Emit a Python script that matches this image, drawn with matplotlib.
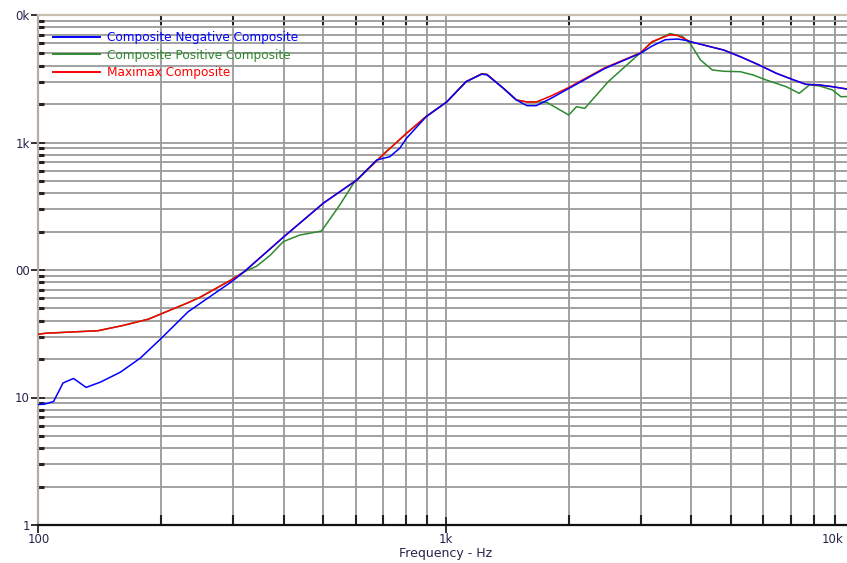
import matplotlib
matplotlib.use("Agg")
import matplotlib.pyplot as plt
import matplotlib.transforms as mtransforms
from matplotlib.ticker import LogLocator, FixedLocator, FixedFormatter, NullFormatter

# ---- data ----
neg_freq = [100, 104, 109, 115, 122, 131, 142, 159, 178, 200, 233, 264, 298, 320,
            400, 500, 604, 676, 728, 770, 800, 894, 1004, 1120, 1222, 1260, 1383,
            1488, 1580, 1665, 1800, 2000, 2450, 3000, 3200, 3450, 3700, 3900, 3970,
            4350, 4800, 5270, 5860, 6460, 7130, 7630, 8240, 8870, 9600, 10000]
neg_vals = [8.8, 8.9, 9.3, 13.0, 14.1, 12.0, 13.2, 15.8, 20.4, 29, 47, 62, 81, 97,
            182, 334, 508, 729, 774, 901, 1079, 1594, 2080, 3000, 3430, 3400, 2662,
            2155, 1945, 1945, 2200, 2650, 3800, 5011, 5700, 6400, 6480, 6300, 6180,
            5745, 5310, 4710, 4055, 3490, 3092, 2860, 2826, 2740, 2630, 2580]

pos_freq = [100, 104, 140, 160, 186, 233, 249, 276, 298, 320, 343, 370, 399, 438,
            495, 549, 593, 700, 800, 894, 1004, 1120, 1222, 1260, 1383, 1488, 1580,
            1665, 1765, 2000, 2090, 2190, 2500, 3000, 3200, 3540, 3800, 3970, 4210,
            4500, 4800, 5270, 5670, 6100, 6830, 7350, 7790, 8240, 8870, 9300, 10000]
pos_vals = [31.3, 31.9, 33.4, 36.5, 41.1, 55.4, 61, 73.2, 84, 97, 107, 130, 167, 188,
            202, 324, 478, 800, 1180, 1600, 2080, 3000, 3450, 3420, 2660, 2155, 2080,
            2080, 2070, 1643, 1909, 1853, 3000, 5060, 6100, 7150, 6800, 6000, 4437,
            3705, 3620, 3590, 3383, 3092, 2740, 2432, 2826, 2780, 2582, 2287, 2300]

max_freq = [100, 104, 140, 160, 186, 233, 249, 276, 298, 320, 345, 400, 500, 604,
            700, 800, 894, 1004, 1120, 1222, 1260, 1383, 1488, 1580, 1665, 1800,
            2000, 2450, 3000, 3200, 3540, 3700, 3970, 4350, 4800, 5270, 5860, 6460,
            7130, 7630, 8240, 8870, 9600, 10000]
max_vals = [31.3, 31.9, 33.4, 36.5, 41.1, 55.4, 61, 73.2, 84, 97, 120, 182, 334, 508,
            800, 1180, 1600, 2080, 3000, 3450, 3420, 2660, 2155, 2080, 2080, 2300,
            2700, 3850, 5050, 6180, 7000, 6900, 6180, 5745, 5310, 4710, 4055, 3490,
            3092, 2860, 2826, 2740, 2630, 2580]

series_labels = ["Composite Negative Composite", "Composite Positive Composite",
                 "Maximax Composite"]
series_colors = ["#0000ff", "#2f8a2f", "#ff0000"]

y_tick_vals = [1, 10, 100, 1000, 10000]
y_tick_text = ["1", "10", "00", "1k", "0k"]
x_tick_vals = [100, 1000, 10000]
x_tick_text = ["100", "1k", "10k"]
x_label = "Frequency - Hz"

# ---- figure ----
W, H = 847, 563
fig = plt.figure(figsize=(W / 100, H / 100), dpi=100)
left_px, top_px, bottom_px = 38.3, 15, 525
right_px = 38.3 + 2 * 407.7
ax = fig.add_axes([left_px / W, (H - bottom_px) / H,
                   (right_px - left_px) / W, (bottom_px - top_px) / H])
ax.set_xscale("log")
ax.set_yscale("log")
ax.set_xlim(100, 10000)
ax.set_ylim(1, 10000)

ax.set_axisbelow(True)
ax.grid(which="both", color="#9a9a9a", linewidth=1.3)

ax.plot(pos_freq, pos_vals, color=series_colors[1], lw=1.1, zorder=3, label=series_labels[1])
ax.plot(max_freq, max_vals, color=series_colors[2], lw=1.1, zorder=4, label=series_labels[2])
ax.plot(neg_freq, neg_vals, color=series_colors[0], lw=1.1, zorder=5, label=series_labels[0])

# ticks
ax.yaxis.set_major_locator(FixedLocator(y_tick_vals))
ax.yaxis.set_major_formatter(FixedFormatter(y_tick_text))
ax.yaxis.set_minor_locator(LogLocator(base=10, subs=range(2, 10), numticks=20))
ax.yaxis.set_minor_formatter(NullFormatter())
ax.xaxis.set_major_locator(FixedLocator(x_tick_vals))
ax.xaxis.set_major_formatter(FixedFormatter(x_tick_text))
ax.xaxis.set_minor_locator(LogLocator(base=10, subs=range(2, 10), numticks=20))
ax.xaxis.set_minor_formatter(NullFormatter())

lab_color = "#25254a"
ax.tick_params(axis="y", which="major", direction="inout", length=10, width=1.3,
               color="#222222", labelsize=8.5, labelcolor=lab_color, pad=1,
               left=True, right=False)
ax.tick_params(axis="y", which="minor", direction="in", length=4, width=2.2,
               color="#222222", left=True, right=False)
ax.tick_params(axis="x", which="major", direction="inout", length=12, width=1.3,
               color="#222222", labelsize=8.5, labelcolor=lab_color, pad=0,
               bottom=True, top=False)
ax.tick_params(axis="x", which="minor", direction="in", length=7, width=1.5,
               color="#222222", bottom=True, top=True)
shift = mtransforms.ScaledTranslation(-10 / 100, 0, fig.dpi_scale_trans)
for lab in ax.get_xticklabels():
    if lab.get_text() == "10k":
        lab.set_horizontalalignment("right")
        lab.set_transform(lab.get_transform() + shift)

ax.spines["left"].set_color("#b5ad9f")
ax.spines["left"].set_linewidth(1.6)
ax.spines["top"].set_color("#c8c0b0")
ax.spines["top"].set_linewidth(1.6)
ax.spines["bottom"].set_color("#111111")
ax.spines["bottom"].set_linewidth(1.6)
ax.spines["right"].set_visible(False)

ax.set_xlabel(x_label, fontsize=9, color=lab_color, labelpad=1)
ax.xaxis.set_label_coords((446 - left_px) / (right_px - left_px), -0.044)

handles, labels = ax.get_legend_handles_labels()
order = [labels.index(l) for l in series_labels]
leg = ax.legend([handles[i] for i in order], [labels[i] for i in order],
                loc="upper left", bbox_to_anchor=(53 / W, (H - 31) / H),
                bbox_transform=fig.transFigure, frameon=False, fontsize=8.7,
                handlelength=3.9, handletextpad=0.55, labelspacing=0.38,
                borderaxespad=0, borderpad=0, labelcolor="linecolor")
for line in leg.get_lines():
    line.set_linewidth(1.4)

fig.savefig("out.png", dpi=100)
